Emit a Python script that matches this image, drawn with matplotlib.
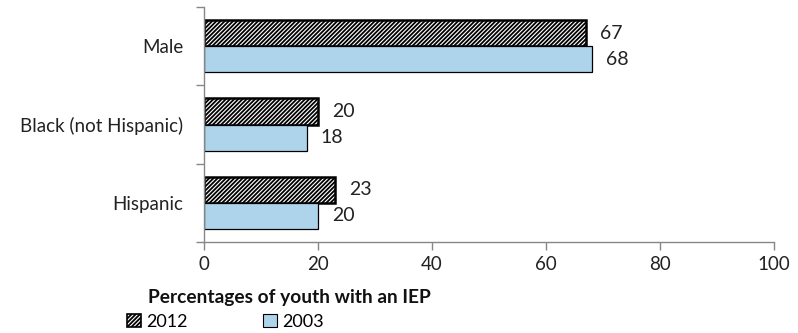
import matplotlib
matplotlib.use("Agg")
import matplotlib.pyplot as plt
from matplotlib.patches import Patch
import numpy as np

categories = ["Male", "Black (not Hispanic)", "Hispanic"]
values_2012 = [67, 20, 23]
values_2003 = [68, 18, 20]
series_names = ["2012", "2003"]
xticks = [0, 20, 40, 60, 80, 100]
xlabel = "Percentages of youth with an IEP"

plt.rcParams['font.family'] = ['Lato', 'DejaVu Sans']
plt.rcParams['hatch.linewidth'] = 1.3

blue = "#AED4EC"
gray = "#878787"
txt = "#222222"
hatch = "////////"

fig = plt.figure(figsize=(7.98, 3.33), dpi=100)
ax = fig.add_axes([204/798, 1-242/333, (774-204)/798, (242-7)/333])

y = np.arange(len(categories))
h = 0.335
b1 = ax.barh(y - h/2, values_2012, height=h, facecolor="white", edgecolor="black",
             hatch=hatch, linewidth=1.8)
b2 = ax.barh(y + h/2, values_2003, height=h, facecolor=blue, edgecolor="black",
             linewidth=0.9)

for bars, vals in ((b1, values_2012), (b2, values_2003)):
    for rect, v in zip(bars, vals):
        ax.annotate(f"{v}", xy=(v, rect.get_y() + rect.get_height()/2),
                    xytext=(14, 0), textcoords="offset pixels",
                    ha="left", va="center", fontsize=14, color=txt)

ax.set_xlim(0, 100)
ax.set_ylim(len(categories) - 0.5, -0.5)
ax.set_xticks(xticks)
ax.set_xticklabels([str(t) for t in xticks], fontsize=13.5, color=txt)
ax.set_yticks(y)
ax.set_yticklabels(categories, fontsize=13.5, color=txt)
ax.set_yticks(np.arange(len(categories) + 1) - 0.5, minor=True)
ax.tick_params(axis="y", which="major", length=0, pad=15)
ax.tick_params(axis="y", which="minor", length=6, color=gray, width=1)
ax.tick_params(axis="x", which="major", length=6, color=gray, width=1, pad=4)

for s in ("top", "right"):
    ax.spines[s].set_visible(False)
for s in ("left", "bottom"):
    ax.spines[s].set_color(gray)
    ax.spines[s].set_linewidth(1)

fig.text(148/798, 1-297/333, xlabel, fontsize=13.8, fontweight="bold",
         ha="left", va="center", color="#111111")

handles = [Patch(facecolor="white", edgecolor="black", hatch=hatch, linewidth=1.2),
           Patch(facecolor=blue, edgecolor="black", linewidth=0.8)]
fig.legend(handles, series_names, loc="center left", bbox_to_anchor=(127/798, 1-322/333),
           ncol=2, frameon=False, fontsize=13, handlelength=0.75, handleheight=0.75,
           handletextpad=0.3, columnspacing=4.2, borderaxespad=0, borderpad=0)

fig.savefig("out.png", dpi=100)
